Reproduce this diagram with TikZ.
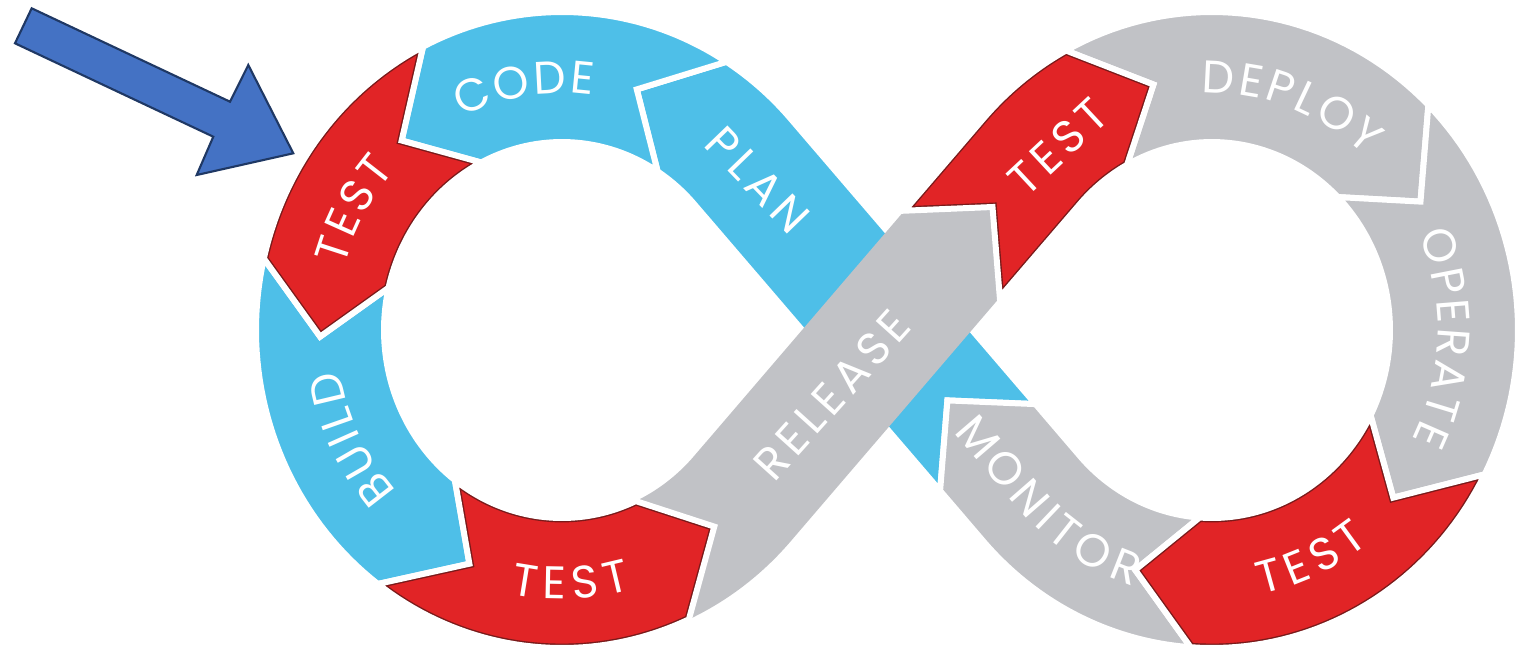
\documentclass[tikz,border=0pt]{standalone}
\usepackage{fontspec}
\usetikzlibrary{decorations.text}
\newfontfamily\lblfont{Poppins}[LetterSpace=12]
\newcommand{\bandfont}{\lblfont\fontsize{13}{15}\selectfont}
\definecolor{segblue}{HTML}{4EBFE8}
\definecolor{segred}{HTML}{E12426}
\definecolor{seggray}{HTML}{C1C2C6}
\definecolor{rededge}{HTML}{7A1A1A}
\definecolor{arrowfill}{HTML}{4472C4}
\definecolor{arrowline}{HTML}{1F3864}

% red pieces: dark rim just inside the white gap
\newcommand{\redpiece}[1]{%
  \fill[segred] #1;
  \begin{scope}
    \clip #1;
    \draw[rededge, line width=2.5pt] #1;
  \end{scope}
  \draw[white, line width=1.7pt] #1;
}
% label set along the middle of the band
\newcommand{\bandlabel}[2]{%
  \path[decorate, decoration={text along path, text={|\bandfont\color{white}|#1},
    text align=center, raise=-4.6pt}] #2;
}

\begin{document}
\begin{tikzpicture}[x=0.01cm, y=-0.01cm, samples=40,
  declare function={ox(\c,\t)=\c+306*cos(\t); oy(\t)=330+318*sin(\t);
    ix(\c,\t)=\c+178*cos(\t); iy(\t)=330+188*sin(\t);
    mx(\c,\t)=\c+242*cos(\t); my(\t)=330+253*sin(\t);}]
\tikzset{
    seg/.style = {draw=white, line width=1.7pt},
    lbl/.style = {text=white, font=\bandfont, inner sep=0pt}
}
\useasboundingbox (0,0) rectangle (1520,657);

% -------------------------------------------------------
\draw[fill=arrowfill, draw=arrowline, line width=0.6pt]
    (31.7,8.3) -- (230,101.7) -- (248.3,65) -- (293.3,153.3)
    -- (196.7,175) -- (213.3,136.7) -- (15,43.3) -- cycle;

% ends of the two crossing bands
\coordinate (ha) at (999.8,297.4);
\coordinate (hb) at (904.4,210.7);
\coordinate (ht) at (992.5,207.0);
\coordinate (ma) at (940.1,490.8);
\coordinate (mb) at (1035.5,404.1);
\coordinate (mt) at (947.4,400.4);
\coordinate (mstart) at (966.8,423.1);

% -------------------------------------------------------
% plan (under release)
\filldraw[seg, fill=segblue] (mb) -- plot[domain=-41.9:-57.5] ({ox(562,\x)},{oy(\x)})
    -- ({mx(562,-72)},{my(-72)}) -- plot[domain=-57.5:-41.9] ({ix(562,\x)},{iy(\x)})
    -- (ma) -- (mt) -- cycle;

% release
\fill[seggray] plot[domain=65.5:41.9] ({ox(562,\x)},{oy(\x)})
    -- (ha) -- (ht) -- (hb) -- plot[domain=41.9:65.5] ({ix(562,\x)},{iy(\x)})
    -- ({mx(562,51)},{my(51)}) -- cycle;

% code, build
\filldraw[seg, fill=segblue] plot[domain=-57.5:-117] ({ox(562,\x)},{oy(\x)})
    -- ({mx(562,-131.5)},{my(-131.5)}) -- plot[domain=-117:-57.5] ({ix(562,\x)},{iy(\x)})
    -- ({mx(562,-72)},{my(-72)}) -- cycle;
\filldraw[seg, fill=segblue] plot[domain=-167:-233] ({ox(562,\x)},{oy(\x)})
    -- ({mx(562,-247.5)},{my(-247.5)}) -- plot[domain=-233:-167] ({ix(562,\x)},{iy(\x)})
    -- ({mx(562,-181.5)},{my(-181.5)}) -- cycle;

% deploy, operate, monitor
\filldraw[seg, fill=seggray] plot[domain=-118.5:-45] ({ox(1212,\x)},{oy(\x)})
    -- ({mx(1212,-30.5)},{my(-30.5)}) -- plot[domain=-45:-118.5] ({ix(1212,\x)},{iy(\x)})
    -- ({mx(1212,-104)},{my(-104)}) -- cycle;
\filldraw[seg, fill=seggray] plot[domain=-45:27] ({ox(1212,\x)},{oy(\x)})
    -- ({mx(1212,41.5)},{my(41.5)}) -- plot[domain=27:-45] ({ix(1212,\x)},{iy(\x)})
    -- ({mx(1212,-30.5)},{my(-30.5)}) -- cycle;
\filldraw[seg, fill=seggray] plot[domain=94:138.1] ({ox(1212,\x)},{oy(\x)})
    -- (ma) -- (mt) -- (mb) -- plot[domain=138.1:94] ({ix(1212,\x)},{iy(\x)})
    -- ({mx(1212,108.5)},{my(108.5)}) -- cycle;

% the four tests
\redpiece{plot[domain=-117:-167] ({ox(562,\x)},{oy(\x)})
    -- ({mx(562,-181.5)},{my(-181.5)}) -- plot[domain=-167:-117] ({ix(562,\x)},{iy(\x)})
    -- ({mx(562,-131.5)},{my(-131.5)}) -- cycle}
\redpiece{plot[domain=-233:-294.5] ({ox(562,\x)},{oy(\x)})
    -- ({mx(562,-309)},{my(-309)}) -- plot[domain=-294.5:-233] ({ix(562,\x)},{iy(\x)})
    -- ({mx(562,-247.5)},{my(-247.5)}) -- cycle}
\redpiece{(hb) -- plot[domain=-138.1:-118.5] ({ox(1212,\x)},{oy(\x)})
    -- ({mx(1212,-104)},{my(-104)}) -- plot[domain=-118.5:-138.1] ({ix(1212,\x)},{iy(\x)})
    -- (ha) -- (ht) -- cycle}
\redpiece{plot[domain=27:94] ({ox(1212,\x)},{oy(\x)})
    -- ({mx(1212,108.5)},{my(108.5)}) -- plot[domain=94:27] ({ix(1212,\x)},{iy(\x)})
    -- ({mx(1212,41.5)},{my(41.5)}) -- cycle}

% -------------------------------------------------------
\bandlabel{{C\kern1.5pt}{O\kern1.5pt}{D\kern1.5pt}E}{plot[domain=-139:-59] ({mx(562,\x)},{my(\x)})}
\bandlabel{{T\kern1.5pt}{E\kern1.5pt}{S\kern1.5pt}T}{plot[domain=-176:-126] ({mx(562,\x)},{my(\x)})}
\bandlabel{{B\kern1.5pt}{U\kern1.5pt}{I\kern1.5pt}{L\kern1.5pt}D}{plot[domain=123:184] ({mx(562,\x)},{my(\x)})}
\bandlabel{{T\kern1.5pt}{E\kern1.5pt}{S\kern1.5pt}T}{plot[domain=118:58] ({mx(562,\x)},{my(\x)})}
\bandlabel{{D\kern1.5pt}{E\kern1.5pt}{P\kern1.5pt}{L\kern1.5pt}{O\kern1.5pt}Y}{plot[domain=-112:-28] ({mx(1212,\x)},{my(\x)})}
\bandlabel{{O\kern1.5pt}{P\kern1.5pt}{E\kern1.5pt}{R\kern1.5pt}{A\kern1.5pt}{T\kern1.5pt}E}{plot[domain=-42:46] ({mx(1212,\x)},{my(\x)})}
\bandlabel{{T\kern1.5pt}{E\kern1.5pt}{S\kern1.5pt}T}{plot[domain=96:36] ({mx(1212,\x)},{my(\x)})}
\bandlabel{{M\kern1.2pt}{O\kern1.2pt}{N\kern1.2pt}{I\kern1.2pt}{T\kern1.2pt}{O\kern1.2pt}R}{(mstart) -- plot[domain=138.1:108] ({mx(1212,\x)},{my(\x)})}

\node[lbl, rotate=-46] (plan) at (758,180) {PLAN};
\node[lbl, rotate=48] (release) at (832,395) {RELEASE};
\node[lbl, rotate=43] (testc) at (1058,147) {TEST};
\end{tikzpicture}
\end{document}
